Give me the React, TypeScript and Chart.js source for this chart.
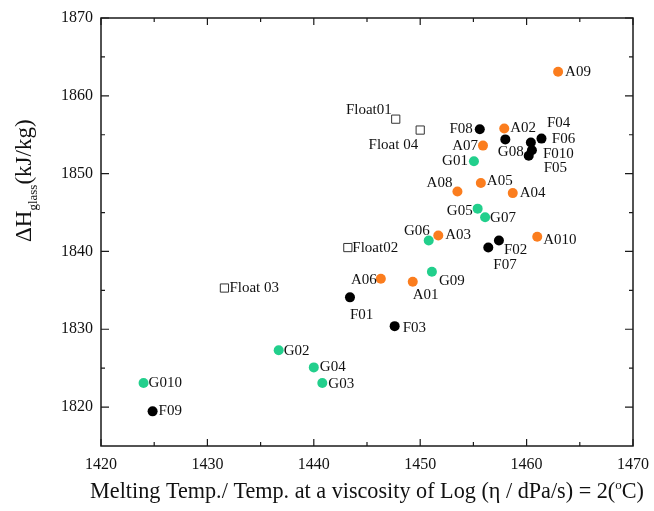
import React, { useEffect, useRef } from 'react';
import { Chart, registerables } from 'chart.js';

Chart.register(...registerables);

// ---- data ----
const X_MIN = 1420;
const X_MAX = 1470;
const Y_MIN = 1815;
const Y_MAX = 1870;
const X_TICKS = [1420, 1430, 1440, 1450, 1460, 1470];
const Y_TICKS = [1820, 1830, 1840, 1850, 1860, 1870];

const orangeLabels = ['A09', 'A02', 'A07', 'A08', 'A05', 'A04', 'A03', 'A010', 'A06', 'A01'];
const orangeX = [1462.96, 1457.9, 1455.9, 1453.5, 1455.7, 1458.7, 1451.7, 1461.0, 1446.3, 1449.3];
const orangeY = [1863.1, 1855.8, 1853.6, 1847.7, 1848.8, 1847.5, 1842.05, 1841.9, 1836.5, 1836.1];

const greenLabels = ['G01', 'G05', 'G07', 'G06', 'G09', 'G02', 'G04', 'G03', 'G010'];
const greenX = [1455.05, 1455.4, 1456.1, 1450.8, 1451.1, 1436.7, 1440.0, 1440.8, 1424.0];
const greenY = [1851.6, 1845.5, 1844.4, 1841.4, 1837.4, 1827.3, 1825.1, 1823.1, 1823.1];

const blackLabels = ['F08', 'G08', 'F06', 'F04', 'F010', 'F05', 'F02', 'F07', 'F01', 'F03', 'F09'];
const blackX = [1455.6, 1458.0, 1460.4, 1461.4, 1460.5, 1460.2, 1457.4, 1456.4, 1443.4, 1447.6, 1424.85];
const blackY = [1855.7, 1854.4, 1854.0, 1854.5, 1853.0, 1852.3, 1841.4, 1840.5, 1834.1, 1830.4, 1819.45];

const floatLabels = ['Float01', 'Float 04', 'Float02', 'Float 03'];
const floatX = [1447.7, 1450.0, 1443.2, 1431.6];
const floatY = [1857.0, 1855.6, 1840.5, 1835.3];

// ---- label placement (style only): [dx, dy, align] ----
const orangePos = [[7, 0, 'l'], [6, 0, 'l'], [-5, 0, 'r'], [-5, -8, 'r'], [6, -2, 'l'], [7, 0, 'l'], [7, 0, 'l'], [6, 3, 'l'], [-4, 1, 'r'], [0, 13, 'l']];
const greenPos = [[-6, 0, 'r'], [-5, 2, 'r'], [5, 1, 'l'], [1, -9, 'r'], [7, 9, 'l'], [5, 1, 'l'], [6, 0, 'l'], [6, 1, 'l'], [5, 0, 'l']];
const blackPos = [[-7, 0, 'r'], [-7.5, 13, 'l'], [21, -3.5, 'l'], [5.5, -16, 'l'], [11, 4, 'l'], [15, 12.5, 'l'], [5, 9.5, 'l'], [5, 17.5, 'l'], [0, 18, 'l'], [8, 2, 'l'], [6, 0, 'l']];
const floatPos = [[-4, -9, 'r'], [-2, 15, 'r'], [4.5, 0, 'l'], [5, 0, 'l']];

const ORANGE = '#FB7D1E';
const GREEN = '#22CF8C';
const BLACK = '#000000';
const FONT = '"Liberation Serif", "Times New Roman", serif';

const toPts = (xs: number[], ys: number[]) => xs.map((x, i) => ({ x, y: ys[i] }));

const labelPlugin = {
  id: 'pointLabels',
  afterDatasetsDraw(chart: any) {
    const ctx = chart.ctx;
    ctx.save();
    ctx.font = `15px ${FONT}`;
    ctx.textBaseline = 'middle';
    ctx.fillStyle = '#111';
    chart.data.datasets.forEach((ds: any, i: number) => {
      const meta = chart.getDatasetMeta(i);
      meta.data.forEach((el: any, j: number) => {
        const p = ds.labelPos[j];
        ctx.textAlign = p[2] === 'r' ? 'right' : 'left';
        ctx.fillText(ds.pointLabels[j], el.x + p[0], el.y + p[1]);
      });
    });
    ctx.restore();
  },
};

const framePlugin = {
  id: 'frame',
  afterDraw(chart: any) {
    const ctx = chart.ctx;
    const { left, right, top, bottom } = chart.chartArea;
    const xs = chart.scales.x;
    const ys = chart.scales.y;
    ctx.save();
    ctx.strokeStyle = '#1a1a1a';
    ctx.lineWidth = 1.5;
    ctx.strokeRect(left, top, right - left, bottom - top);
    ctx.lineWidth = 1.2;
    ctx.beginPath();
    for (let v = X_MIN; v <= X_MAX; v += 5) {
      const px = xs.getPixelForValue(v);
      const len = v % 10 === 0 ? 7 : 4;
      ctx.moveTo(px, bottom);
      ctx.lineTo(px, bottom - len);
      ctx.moveTo(px, top);
      ctx.lineTo(px, top + len);
    }
    for (let v = 1820; v <= Y_MAX; v += 5) {
      const py = ys.getPixelForValue(v);
      const len = v % 10 === 0 ? 8 : 4;
      ctx.moveTo(left, py);
      ctx.lineTo(left + len, py);
      ctx.moveTo(right, py);
      ctx.lineTo(right - len, py);
    }
    ctx.stroke();

    // y title with subscript
    ctx.fillStyle = '#111';
    ctx.translate(31, 242);
    ctx.rotate(-Math.PI / 2);
    ctx.textAlign = 'left';
    ctx.textBaseline = 'alphabetic';
    ctx.font = `23px ${FONT}`;
    ctx.fillText('ΔH', 0, 0);
    const w1 = ctx.measureText('ΔH').width;
    ctx.font = `13px ${FONT}`;
    ctx.fillText('glass', w1, 6);
    const w2 = ctx.measureText('glass').width;
    ctx.font = `23px ${FONT}`;
    ctx.fillText('(kJ/kg)', w1 + w2, 0);
    ctx.setTransform(1, 0, 0, 1, 0, 0);

    // x title with superscript
    const main = 'Melting Temp./ Temp. at a viscosity of Log (η / dPa/s) = 2(';
    const big = `22.2px ${FONT}`;
    const small = `13px ${FONT}`;
    ctx.font = big;
    const a = ctx.measureText(main).width;
    const c = ctx.measureText('C)').width;
    ctx.font = small;
    const b = ctx.measureText('o').width;
    const total = a + b + c;
    const cx = (left + right) / 2;
    const x0 = cx - total / 2;
    const by = 498;
    ctx.font = big;
    ctx.fillText(main, x0, by);
    ctx.font = small;
    ctx.fillText('o', x0 + a, by - 9);
    ctx.font = big;
    ctx.fillText('C)', x0 + a + b, by);
    ctx.restore();
  },
};

export default function App() {
  const ref = useRef<HTMLCanvasElement>(null);
  useEffect(() => {
    document.body.style.margin = '0';
    const canvas = ref.current!;
    const circle = (color: string) => ({
      pointStyle: 'circle',
      pointRadius: 5,
      pointBackgroundColor: color,
      pointBorderColor: color,
      pointBorderWidth: 0,
      showLine: false,
    });
    const chart = new Chart(canvas, {
      type: 'scatter',
      data: {
        datasets: [
          { label: 'Float', data: toPts(floatX, floatY), pointStyle: 'rect', pointRadius: 5.8, pointBackgroundColor: 'rgba(255,255,255,0)', pointBorderColor: '#333', pointBorderWidth: 1, pointLabels: floatLabels, labelPos: floatPos } as any,
          { label: 'F', data: toPts(blackX, blackY), ...circle(BLACK), pointLabels: blackLabels, labelPos: blackPos } as any,
          { label: 'A', data: toPts(orangeX, orangeY), ...circle(ORANGE), pointLabels: orangeLabels, labelPos: orangePos } as any,
          { label: 'G', data: toPts(greenX, greenY), ...circle(GREEN), pointLabels: greenLabels, labelPos: greenPos } as any,
        ],
      },
      options: {
        responsive: false,
        animation: false,
        layout: { padding: { left: 0, right: 21, top: 18, bottom: 0 } },
        plugins: { legend: { display: false }, tooltip: { enabled: false } },
        scales: {
          x: {
            type: 'linear',
            min: X_MIN,
            max: X_MAX,
            afterBuildTicks: (s: any) => { s.ticks = X_TICKS.map((v) => ({ value: v })); },
            afterFit: (s: any) => { s.height = 65; s.paddingLeft = 0; s.paddingRight = 0; },
            grid: { display: false, drawTicks: false },
            border: { display: false },
            ticks: { color: '#111', font: { family: FONT, size: 16 }, padding: 9, maxRotation: 0, autoSkip: false, callback: (v: any) => String(v) },
          },
          y: {
            type: 'linear',
            min: Y_MIN,
            max: Y_MAX,
            afterBuildTicks: (s: any) => { s.ticks = Y_TICKS.map((v) => ({ value: v })); },
            afterFit: (s: any) => { s.width = 101; s.paddingTop = 0; s.paddingBottom = 0; },
            grid: { display: false, drawTicks: false },
            border: { display: false },
            ticks: { color: '#111', font: { family: FONT, size: 16 }, padding: 8, autoSkip: false, callback: (v: any) => String(v) },
          },
        },
      },
      plugins: [labelPlugin, framePlugin],
    });
    return () => chart.destroy();
  }, []);
  return (
    <div style={{ width: 654, height: 511, background: '#fff' }}>
      <canvas ref={ref} width={654} height={511} style={{ display: 'block' }} />
    </div>
  );
}
